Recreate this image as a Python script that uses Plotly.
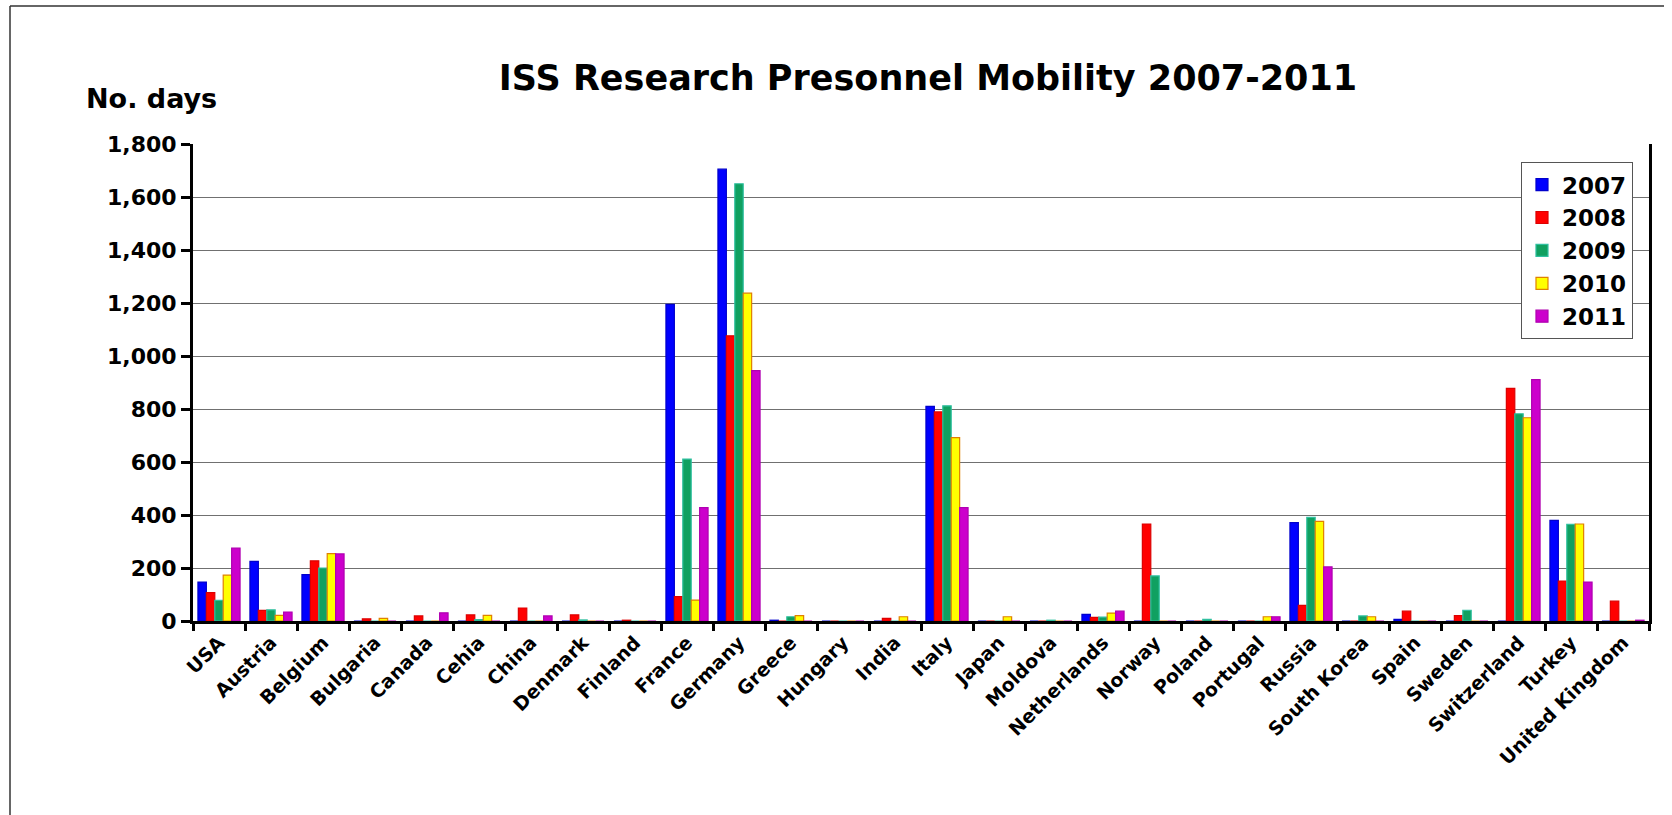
import plotly.graph_objects as go

countries = ["USA", "Austria", "Belgium", "Bulgaria", "Canada", "Cehia", "China", "Denmark",
             "Finland", "France", "Germany", "Greece", "Hungary", "India", "Italy", "Japan",
             "Moldova", "Netherlands", "Norway", "Poland", "Portugal", "Russia", "South Korea",
             "Spain", "Sweden", "Switzerland", "Turkey", "United Kingdom"]

y2007 = [147, 225, 175, 0, 0, 0, 0, 0, 0, 1195, 1705, 3, 0, 0, 810, 0, 0, 25, 0, 0, 0, 371, 0, 6, 0, 0, 380, 0]
y2008 = [107, 40, 227, 8, 19, 23, 49, 23, 3, 92, 1076, 0, 0, 10, 789, 0, 0, 14, 366, 0, 0, 59, 0, 37, 20, 878, 151, 75]
y2009 = [78, 42, 200, 0, 0, 5, 0, 4, 0, 611, 1650, 16, 0, 0, 812, 0, 3, 15, 170, 6, 0, 391, 19, 0, 40, 782, 365, 0]
y2010 = [173, 21, 254, 10, 0, 21, 0, 0, 0, 79, 1237, 20, 0, 16, 692, 16, 0, 30, 0, 0, 16, 376, 16, 0, 0, 767, 366, 0]
y2011 = [275, 34, 253, 0, 31, 0, 19, 0, 0, 428, 945, 0, 0, 0, 428, 0, 0, 37, 0, 0, 16, 204, 0, 0, 0, 911, 147, 3]

years = ["2007", "2008", "2009", "2010", "2011"]
series = [y2007, y2008, y2009, y2010, y2011]
fills = ["#0000FF", "#FF0000", "#10A060", "#FFFF00", "#CC00CC"]
outlines = ["#0000CC", "#DD0000", "#30C0A0", "#E08000", "#B000B0"]

FONT = "DejaVu Sans, Liberation Sans, Arial, sans-serif"

fig = go.Figure()
for name, vals, fc, lc in zip(years, series, fills, outlines):
    fig.add_trace(go.Bar(
        name=name, x=countries, y=vals,
        marker=dict(color=fc, line=dict(color=lc, width=1.2)),
        legendgroup=name,
    ))

fig.update_layout(
    width=1672, height=815,
    paper_bgcolor="white", plot_bgcolor="white",
    barmode="group", bargap=0.19, bargroupgap=0.0,
    margin=dict(l=193, r=23, t=144, b=194, autoexpand=False),
    font=dict(family=FONT, color="black"),
    title=dict(text="ISS Research Presonnel Mobility 2007-2011",
               x=928 / 1672, xref="container", xanchor="center",
               y=1 - 78 / 815, yref="container", yanchor="middle",
               font=dict(family=FONT, size=35, weight=700, color="black")),
    legend=dict(x=0.989, xanchor="right", y=0.962, yanchor="top",
                bgcolor="white", bordercolor="#555555", borderwidth=1,
                font=dict(family=FONT, size=23, weight=700, color="black"),
                tracegroupgap=0, itemwidth=30),
    showlegend=True,
)

fig.update_xaxes(
    type="category", showline=True, linecolor="black", linewidth=3,
    ticks="outside", tickson="boundaries", ticklen=7, tickwidth=3, tickcolor="black",
    tickangle=-45, tickfont=dict(family=FONT, size=19, weight=700, color="black"),
    showgrid=False, zeroline=False,
)
fig.update_yaxes(
    range=[0, 1800], dtick=200, tickformat=",d",
    showline=True, linecolor="black", linewidth=3, mirror=True,
    ticks="outside", ticklen=9, tickwidth=3, tickcolor="black",
    tickfont=dict(family=FONT, size=22, weight=700, color="black"),
    showgrid=True, gridcolor="#707070", gridwidth=1, zeroline=False,
)

fig.add_annotation(text="No. days", xref="paper", yref="paper",
                   x=(84 - 193) / 1456, xanchor="left",
                   y=(621 - 98) / 477, yanchor="middle",
                   showarrow=False,
                   font=dict(family=FONT, size=27, weight=700, color="black"))

# outer frame (left and top edges)
fig.add_shape(type="line", xref="paper", yref="paper",
              x0=(10 - 193) / 1456, x1=(10 - 193) / 1456,
              y0=(621 - 6) / 477, y1=(621 - 815) / 477,
              line=dict(color="#333333", width=1.5))
fig.add_shape(type="line", xref="paper", yref="paper",
              x0=(10 - 193) / 1456, x1=(1664 - 193) / 1456,
              y0=(621 - 6) / 477, y1=(621 - 6) / 477,
              line=dict(color="#333333", width=1.5))

fig.write_html("out.html")
